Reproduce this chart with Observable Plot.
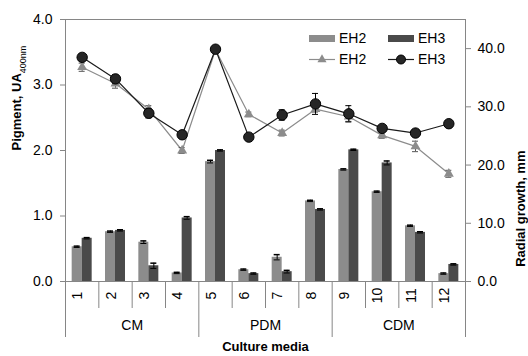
<!DOCTYPE html>
<html>
<head>
<meta charset="utf-8">
<script src="https://cdn.jsdelivr.net/npm/d3@7"></script>
<script src="https://cdn.jsdelivr.net/npm/@observablehq/plot@0.6"></script>
<style>
  html, body { margin: 0; padding: 0; background: #fff; }
  #chart { width: 528px; height: 356px; }
</style>
</head>
<body>
<div id="chart"></div>
<script>
// ---- data ----
const categories = ["1","2","3","4","5","6","7","8","9","10","11","12"];
const groups = ["CM","PDM","CDM"];
const groupSize = 4;
const seriesNames = ["EH2","EH3"];

// pigment (UA400nm) – bars
const pigEH2 = [0.53, 0.76, 0.60, 0.13, 1.83, 0.18, 0.37, 1.23, 1.71, 1.37, 0.85, 0.12];
const pigEH3 = [0.66, 0.78, 0.24, 0.97, 2.00, 0.12, 0.15, 1.10, 2.01, 1.81, 0.75, 0.26];
const pigErrEH2 = [0.01, 0.01, 0.02, 0.01, 0.02, 0.01, 0.04, 0.01, 0.01, 0.01, 0.01, 0.01];
const pigErrEH3 = [0.01, 0.01, 0.04, 0.02, 0.01, 0.01, 0.02, 0.01, 0.01, 0.03, 0.01, 0.01];

// radial growth (mm) – lines
const radEH2 = [36.8, 34.0, 29.6, 22.5, 39.8, 28.7, 25.5, 29.6, 28.3, 25.1, 23.2, 18.5];
const radEH3 = [38.5, 34.8, 28.9, 25.2, 39.9, 24.8, 28.6, 30.5, 28.8, 26.3, 25.5, 27.1];
const radErrEH2 = [0.7, 0.8, 0.6, 0.5, 0.3, 0.4, 0.5, 0.5, 0.8, 0.5, 0.9, 0.6];
const radErrEH3 = [0.6, 0.7, 0.8, 0.4, 0.3, 0.3, 0.9, 1.8, 1.4, 0.5, 0.4, 0.4];

const leftTicks = [0, 1, 2, 3, 4];
const rightTicks = [0, 10, 20, 30, 40];
const leftMax = 4, rightMax = 45;

// ---- styling ----
const colEH2 = "#8c8c8c";
const colEH3 = "#4a4a4a";
const lineEH2 = "#8c8c8c";
const lineEH3 = "#1a1a1a";
const axisGray = "#868686";
const font = "'Liberation Sans', Arial, sans-serif";

const k = leftMax / rightMax;
const rows = categories.map((c, j) => ({
  i: j + 1, c,
  p2: pigEH2[j], p3: pigEH3[j], pe2: pigErrEH2[j], pe3: pigErrEH3[j],
  r2: radEH2[j] * k, r3: radEH3[j] * k, re2: radErrEH2[j] * k, re3: radErrEH3[j] * k
}));
const groupRows = groups.map((g, j) => ({g, x: j * groupSize + (groupSize + 1) / 2}));
const innerSeps = d3.range(1, categories.length).filter(b => b % groupSize !== 0).map(b => b + 0.5);
const groupSeps = d3.range(0, categories.length + 1, groupSize).map(b => b + 0.5);

const bw = 0.3, cap = 0.09;

const plot = Plot.plot({
  width: 528, height: 356,
  marginTop: 19, marginRight: 63, marginBottom: 75, marginLeft: 65,
  x: {domain: [0.5, categories.length + 0.5], axis: null},
  y: {domain: [0, leftMax], axis: null},
  style: {fontFamily: font, fontSize: "14px", color: "#000", background: "#fff"},
  marks: [
    // bars
    Plot.rectY(rows, {x1: d => d.i - bw, x2: d => d.i, y: "p2", fill: colEH2}),
    Plot.rectY(rows, {x1: d => d.i, x2: d => d.i + bw, y: "p3", fill: colEH3}),
    // bar error bars
    Plot.ruleX(rows, {x: d => d.i - bw / 2, y1: d => d.p2 - d.pe2, y2: d => d.p2 + d.pe2, stroke: "#000", strokeWidth: 1}),
    Plot.ruleY(rows, {y: d => d.p2 + d.pe2, x1: d => d.i - bw / 2 - cap, x2: d => d.i - bw / 2 + cap, stroke: "#000", strokeWidth: 1.5}),
    Plot.ruleY(rows, {y: d => d.p2 - d.pe2, x1: d => d.i - bw / 2 - cap, x2: d => d.i - bw / 2 + cap, stroke: "#000", strokeWidth: 1}),
    Plot.ruleX(rows, {x: d => d.i + bw / 2, y1: d => d.p3 - d.pe3, y2: d => d.p3 + d.pe3, stroke: "#000", strokeWidth: 1}),
    Plot.ruleY(rows, {y: d => d.p3 + d.pe3, x1: d => d.i + bw / 2 - cap, x2: d => d.i + bw / 2 + cap, stroke: "#000", strokeWidth: 1.5}),
    Plot.ruleY(rows, {y: d => d.p3 - d.pe3, x1: d => d.i + bw / 2 - cap, x2: d => d.i + bw / 2 + cap, stroke: "#000", strokeWidth: 1}),
    // frame
    Plot.frame({stroke: axisGray}),
    // lines
    Plot.line(rows, {x: "i", y: "r2", stroke: lineEH2, strokeWidth: 1.2}),
    Plot.ruleX(rows, {x: "i", y1: d => d.r2 - d.re2, y2: d => d.r2 + d.re2, stroke: "#555"}),
    Plot.ruleY(rows, {y: d => d.r2 + d.re2, x1: d => d.i - cap, x2: d => d.i + cap, stroke: "#555"}),
    Plot.ruleY(rows, {y: d => d.r2 - d.re2, x1: d => d.i - cap, x2: d => d.i + cap, stroke: "#555"}),
    Plot.dot(rows, {x: "i", y: "r2", symbol: "triangle", r: 3.7, fill: lineEH2, stroke: "none"}),
    Plot.line(rows, {x: "i", y: "r3", stroke: lineEH3, strokeWidth: 1.2}),
    Plot.ruleX(rows, {x: "i", y1: d => d.r3 - d.re3, y2: d => d.r3 + d.re3, stroke: "#000"}),
    Plot.ruleY(rows, {y: d => d.r3 + d.re3, x1: d => d.i - cap, x2: d => d.i + cap, stroke: "#000"}),
    Plot.ruleY(rows, {y: d => d.r3 - d.re3, x1: d => d.i - cap, x2: d => d.i + cap, stroke: "#000"}),
    Plot.dot(rows, {x: "i", y: "r3", r: 5.2, fill: "#262626", stroke: "#000", strokeWidth: 1}),
    // left axis
    Plot.axisY(leftTicks, {anchor: "left", tickSize: 5, tickPadding: 8, stroke: axisGray, tickFormat: d => d.toFixed(1), label: null}),
    // right axis (radial growth, mm)
    Plot.axisY(rightTicks.map(v => v * k), {anchor: "right", tickSize: 5, tickPadding: 7, stroke: axisGray, tickFormat: d => (d / k).toFixed(1), label: null}),
    // bottom category axis
    Plot.ruleX(innerSeps, {x: d => d, insetTop: 262, insetBottom: -27, stroke: axisGray}),
    Plot.ruleX(groupSeps, {x: d => d, insetTop: 262, insetBottom: -56, stroke: axisGray}),
    Plot.text(rows, {x: "i", text: "c", frameAnchor: "bottom", dy: 14, rotate: -90, fill: "#000"}),
    Plot.text(groupRows, {x: "x", text: "g", frameAnchor: "bottom", dy: 48, fill: "#000"}),
    Plot.text(["Culture media"], {frameAnchor: "bottom", dy: 69, fontWeight: "bold", fontSize: 13, fill: "#000"}),
    // y titles
    Plot.text(["Pigment, UA"], {frameAnchor: "left", dx: -49, rotate: -90, fontWeight: "bold", fontSize: 13, fill: "#000", className: "ytitle-left"}),
    Plot.text(["Radial growth, mm"], {frameAnchor: "right", dx: 55, rotate: -90, fontWeight: "bold", fontSize: 13, fill: "#000"})
  ]
});

document.getElementById("chart").appendChild(plot);

// subscript on left title
const svg = d3.select(plot);
const lt = plot.querySelector("g.ytitle-left text");
if (lt) {
  d3.select(lt).append("tspan").attr("baseline-shift", "sub").attr("font-size", "9px").attr("font-weight", "normal").text("400nm");
}

// legend
const lg = svg.append("g").attr("font-family", font).attr("font-size", "14px").attr("text-anchor", "start");
const legendItems = [
  {type: "bar", name: seriesNames[0], color: colEH2, x: 309, y: 38.5},
  {type: "bar", name: seriesNames[1], color: colEH3, x: 388, y: 38.5},
  {type: "tri", name: seriesNames[0], color: lineEH2, x: 309, y: 59.5},
  {type: "dot", name: seriesNames[1], color: lineEH3, x: 388, y: 59.5}
];
legendItems.forEach(it => {
  const g = lg.append("g").attr("transform", `translate(${it.x},${it.y})`);
  if (it.type === "bar") {
    g.append("rect").attr("x", 0).attr("y", -3.5).attr("width", 26).attr("height", 7).attr("fill", it.color);
  } else {
    g.append("line").attr("x1", 0).attr("x2", 26).attr("y1", 0).attr("y2", 0).attr("stroke", it.color).attr("stroke-width", 1.2);
    if (it.type === "tri") {
      g.append("path").attr("d", d3.symbol(d3.symbolTriangle, 36)()).attr("transform", "translate(13,0)").attr("fill", it.color);
    } else {
      g.append("circle").attr("cx", 13).attr("cy", 0).attr("r", 4.5).attr("fill", "#262626").attr("stroke", "#000");
    }
  }
  g.append("text").attr("x", 30).attr("y", 0).attr("dy", "0.35em").attr("fill", "#000").text(it.name);
});
</script>
</body>
</html>
